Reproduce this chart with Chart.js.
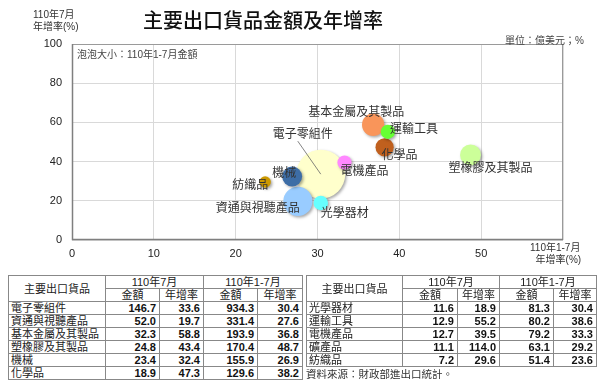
<!DOCTYPE html>
<html>
<head>
<meta charset="utf-8">
<script src="https://cdn.jsdelivr.net/npm/chart.js@4.4.1/dist/chart.umd.min.js"></script>
<style>
  html, body { margin:0; padding:0; background:#fff; }
  body { width:605px; height:389px; position:relative; overflow:hidden;
         font-family:"Liberation Sans", Arial, "Noto Sans CJK TC", sans-serif; color:#222; }
  #c { position:absolute; left:0; top:0; }
  .t { position:absolute; white-space:nowrap; }
  table { position:absolute; border-collapse:collapse; table-layout:fixed; font-size:11px; border:1px solid #555; }
  td { border:1px solid #888; padding:0 3px; height:12px; line-height:12px; overflow:hidden; white-space:nowrap; }
  td.n { text-align:left; padding-left:2px; }
  td.v { text-align:right; font-weight:bold; color:#111; }
  td.h { text-align:center; }
</style>
</head>
<body>
<canvas id="c" width="605" height="265"></canvas>
<div class="t" style="left:143px;top:6px;font-size:20px;line-height:28px;font-family:'Noto Sans CJK TC',sans-serif;font-weight:500;color:#111;">主要出口貨品金額及年增率</div>
<div class="t" style="left:33px;top:9px;font-size:10px;line-height:12px;color:#333;">110年7月<br>年增率(%)</div>
<div class="t" style="left:505px;top:32px;font-size:10px;color:#444;">單位：億美元；%</div>
<div class="t" style="left:77px;top:46px;font-size:10px;color:#444;">泡泡大小：110年1-7月金額</div>
<div class="t" style="left:530px;top:242px;font-size:10px;line-height:12px;color:#333;">110年1-7月<br>&nbsp;&nbsp;年增率(%)</div>

<table id="t1" style="left:8px;top:275px;width:294px;">
  <colgroup><col style="width:97px"><col style="width:54px"><col style="width:44px"><col style="width:54px"><col style="width:45px"></colgroup>
</table>
<table id="t2" style="left:306px;top:275px;width:290px;">
  <colgroup><col style="width:96px"><col style="width:55px"><col style="width:42px"><col style="width:54px"><col style="width:43px"></colgroup>
</table>
<div class="t" style="left:306px;top:366px;font-size:10.5px;color:#333;">資料來源：財政部進出口統計。</div>

<script>
// ---- data ----
const categories = ['電子零組件','資通與視聽產品','基本金屬及其製品','塑橡膠及其製品','機械','化學品','光學器材','運輸工具','電機產品','礦產品','紡織品'];
const julAmount  = [146.7, 52.0, 32.3, 24.8, 23.4, 18.9, 11.6, 12.9, 12.7, 11.1, 7.2];
const julGrowth  = [33.6, 19.7, 58.8, 43.4, 32.4, 47.3, 18.9, 55.2, 39.5, 114.0, 29.6];
const ytdAmount  = [934.3, 331.4, 193.9, 170.4, 155.9, 129.6, 81.3, 80.2, 79.2, 63.1, 51.4];
const ytdGrowth  = [30.4, 27.6, 36.8, 48.7, 26.9, 38.2, 30.4, 38.6, 33.3, 29.2, 23.6];
const xTicks = [0, 10, 20, 30, 40, 50];
const yTicks = [0, 20, 40, 60, 80, 100];

// ---- styles ----
const colors = ['#FFFFCC','#99CCFF','#F9955A','#CCFF99','#3D6DA6','#C0601E','#66FFFF','#66FF33','#FF88FF','#A0A0A0','#CC9900'];
const labelOffsets = [[-18,-41],[-40,6],[-17,-13],[20,13],[-8,-4],[15,7],[24,9],[26,-3],[20,8],[0,0],[-15,2]];
const RK = 0.8;

// ---- tables ----
function fmt(v){ return v.toFixed(1); }
function buildTable(id, idx){
  const t = document.getElementById(id);
  let h = '<tr><td class="h" rowspan="2">主要出口貨品</td><td class="h" colspan="2">110年7月</td><td class="h" colspan="2">110年1-7月</td></tr>' +
          '<tr><td class="h">金額</td><td class="h">年增率</td><td class="h">金額</td><td class="h">年增率</td></tr>';
  idx.forEach(i=>{
    h += '<tr><td class="n">'+categories[i]+'</td><td class="v">'+fmt(julAmount[i])+'</td><td class="v">'+fmt(julGrowth[i])+
         '</td><td class="v">'+fmt(ytdAmount[i])+'</td><td class="v">'+fmt(ytdGrowth[i])+'</td></tr>';
  });
  t.insertAdjacentHTML('beforeend', h);
}
buildTable('t1',[0,1,2,3,4,5]);
buildTable('t2',[6,7,8,9,10]);

// ---- chart ----
const points = categories.map((c,i)=>({x: ytdGrowth[i], y: julGrowth[i], r: RK*Math.sqrt(ytdAmount[i])}));

const deco = {
  id:'deco',
  beforeDatasetsDraw(chart){
    const ctx = chart.ctx;
    ctx.save();
    ctx.shadowColor = 'rgba(0,0,0,0.35)';
    ctx.shadowBlur = 3;
    ctx.shadowOffsetX = 1.5;
    ctx.shadowOffsetY = 1.5;
  },
  afterDatasetsDraw(chart){
    const ctx = chart.ctx;
    ctx.restore();
    const a = chart.chartArea;
    // frame
    ctx.save();
    ctx.strokeStyle = '#9a9a9a'; ctx.lineWidth = 1;
    ctx.beginPath();
    ctx.moveTo(a.left, a.top+0.5); ctx.lineTo(a.right-0.5, a.top+0.5); ctx.lineTo(a.right-0.5, a.bottom);
    ctx.stroke();
    ctx.strokeStyle = '#7f7f7f'; ctx.lineWidth = 1.5;
    ctx.beginPath();
    ctx.moveTo(a.left+0.5, a.top); ctx.lineTo(a.left+0.5, a.bottom-0.5); ctx.lineTo(a.right, a.bottom-0.5);
    ctx.stroke();
    // labels
    const xs = chart.scales.x, ys = chart.scales.y;
    ctx.font = '12px "Noto Sans CJK TC", sans-serif';
    ctx.fillStyle = '#333';
    ctx.textAlign = 'center'; ctx.textBaseline = 'middle';
    categories.forEach((c,i)=>{
      if (julGrowth[i] > ys.max || ytdGrowth[i] > xs.max) return;
      const px = xs.getPixelForValue(ytdGrowth[i]);
      const py = ys.getPixelForValue(julGrowth[i]);
      const lx = px + labelOffsets[i][0], ly = py + labelOffsets[i][1];
      if (i === 0) {
        ctx.strokeStyle = '#666'; ctx.lineWidth = 0.8;
        ctx.beginPath(); ctx.moveTo(lx-5, ly+8); ctx.lineTo(px, py); ctx.stroke();
      }
      ctx.fillText(c, lx, ly);
    });
    ctx.restore();
  }
};

new Chart(document.getElementById('c'), {
  type:'bubble',
  data:{ datasets:[{
    data: points,
    backgroundColor: colors,
    borderWidth: 0,
    hoverBorderWidth: 0,
    clip: 0
  }]},
  options:{
    responsive:false,
    animation:false,
    devicePixelRatio:1,
    layout:{ padding:{ top:44, right:42, left:0, bottom:0 } },
    plugins:{ legend:{display:false}, tooltip:{enabled:false} },
    scales:{
      x:{
        type:'linear', min:0, max:60,
        afterBuildTicks(s){ s.ticks = [...xTicks, 60].map(v=>({value:v})); },
        afterFit(s){ s.height = 25; },
        ticks:{ padding:7, color:'#222', font:{size:11, family:'"Liberation Sans", Arial'},
                callback:(v)=> xTicks.includes(v) ? String(v) : '' },
        grid:{ color:'#d9d9d9', drawTicks:false },
        border:{ display:false }
      },
      y:{
        type:'linear', min:0, max:100,
        afterBuildTicks(s){ s.ticks = yTicks.map(v=>({value:v})); },
        afterFit(s){ s.width = 72; },
        ticks:{ padding:10, color:'#222', font:{size:11, family:'"Liberation Sans", Arial'} },
        grid:{ color:'#d9d9d9', drawTicks:false },
        border:{ display:false }
      }
    }
  },
  plugins:[deco]
});
</script>
</body>
</html>
